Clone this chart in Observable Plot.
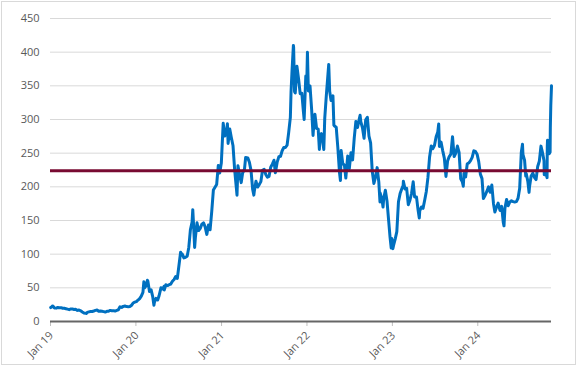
<!DOCTYPE html>
<html><head><meta charset="utf-8">
<script src="https://cdn.jsdelivr.net/npm/d3@7"></script>
<script src="https://cdn.jsdelivr.net/npm/@observablehq/plot@0.6"></script>
<style>
html,body{margin:0;padding:0;background:#fff;}
#chart{position:absolute;left:0;top:0;width:578px;height:367px;}
#frame{position:absolute;left:1px;top:1px;width:575px;height:364px;box-sizing:border-box;border:1px solid #d9d9d9;pointer-events:none;}
</style></head><body>
<div id="chart"></div><div id="frame"></div>
<script>
const dates = [
"2019-01-02","2019-01-04","2019-01-10","2019-01-11","2019-01-18","2019-01-25","2019-02-01","2019-02-08","2019-02-15","2019-02-22",
"2019-03-01","2019-03-08","2019-03-15","2019-03-22","2019-03-29","2019-04-05","2019-04-12","2019-04-18","2019-04-26","2019-05-03",
"2019-05-10","2019-05-17","2019-05-24","2019-05-31","2019-06-03","2019-06-07","2019-06-14","2019-06-21","2019-06-28","2019-07-05",
"2019-07-12","2019-07-19","2019-07-26","2019-08-02","2019-08-09","2019-08-16","2019-08-23","2019-08-30","2019-09-06","2019-09-13",
"2019-09-20","2019-09-27","2019-10-04","2019-10-11","2019-10-18","2019-10-25","2019-11-01","2019-11-08","2019-11-15","2019-11-22",
"2019-11-29","2019-12-06","2019-12-13","2019-12-20","2019-12-27",
"2020-01-03","2020-01-10","2020-01-17","2020-01-24","2020-01-31","2020-02-04","2020-02-07","2020-02-14","2020-02-19","2020-02-21",
"2020-02-28","2020-03-06","2020-03-13","2020-03-18","2020-03-20","2020-03-27","2020-04-03","2020-04-09","2020-04-17","2020-04-24",
"2020-04-30","2020-05-01","2020-05-08","2020-05-15","2020-05-22","2020-05-29","2020-06-05","2020-06-12","2020-06-19","2020-06-26",
"2020-07-02","2020-07-10","2020-07-13","2020-07-17","2020-07-24","2020-07-31","2020-08-07","2020-08-14","2020-08-21","2020-08-28",
"2020-08-31","2020-09-04","2020-09-08","2020-09-11","2020-09-18","2020-09-25","2020-10-02","2020-10-09","2020-10-16","2020-10-23",
"2020-10-30","2020-11-06","2020-11-13","2020-11-20","2020-11-27","2020-12-04","2020-12-11","2020-12-18","2020-12-24","2020-12-31",
"2021-01-08","2021-01-15","2021-01-22","2021-01-26","2021-01-29","2021-02-05","2021-02-12","2021-02-19","2021-02-26","2021-03-05",
"2021-03-08","2021-03-12","2021-03-19","2021-03-26","2021-04-01","2021-04-09","2021-04-14","2021-04-23","2021-04-30","2021-05-07",
"2021-05-14","2021-05-19","2021-05-21","2021-05-28","2021-06-04","2021-06-11","2021-06-18","2021-06-25","2021-07-02","2021-07-09",
"2021-07-16","2021-07-23","2021-07-30","2021-08-06","2021-08-13","2021-08-19","2021-08-27","2021-09-03","2021-09-10","2021-09-17",
"2021-09-24","2021-10-01","2021-10-08","2021-10-15","2021-10-22","2021-10-25","2021-10-29","2021-11-04","2021-11-05","2021-11-09",
"2021-11-12","2021-11-19","2021-11-26","2021-12-03","2021-12-10","2021-12-17","2021-12-20","2021-12-27","2021-12-31",
"2022-01-03","2022-01-07","2022-01-14","2022-01-21","2022-01-27","2022-01-28","2022-02-04","2022-02-11","2022-02-18","2022-02-23",
"2022-02-25","2022-03-04","2022-03-14","2022-03-18","2022-03-25","2022-04-04","2022-04-08","2022-04-14","2022-04-22","2022-04-26",
"2022-04-29","2022-05-06","2022-05-13","2022-05-20","2022-05-24","2022-05-27","2022-06-03","2022-06-10","2022-06-16","2022-06-24",
"2022-07-01","2022-07-08","2022-07-15","2022-07-22","2022-07-29","2022-08-05","2022-08-12","2022-08-16","2022-08-19","2022-08-26",
"2022-09-02","2022-09-09","2022-09-16","2022-09-23","2022-09-30","2022-10-07","2022-10-14","2022-10-21","2022-10-28","2022-11-04",
"2022-11-09","2022-11-10","2022-11-18","2022-11-22","2022-11-25","2022-12-02","2022-12-09","2022-12-16","2022-12-22","2022-12-27",
"2022-12-30",
"2023-01-03","2023-01-06","2023-01-13","2023-01-20","2023-01-27","2023-02-03","2023-02-10","2023-02-16","2023-02-17","2023-02-24",
"2023-03-03","2023-03-10","2023-03-17","2023-03-24","2023-03-31","2023-04-06","2023-04-14","2023-04-21","2023-04-26","2023-04-28",
"2023-05-05","2023-05-12","2023-05-19","2023-05-26","2023-06-02","2023-06-09","2023-06-16","2023-06-23","2023-06-30","2023-07-07",
"2023-07-14","2023-07-18","2023-07-21","2023-07-28","2023-08-04","2023-08-11","2023-08-18","2023-08-25","2023-09-01","2023-09-08",
"2023-09-15","2023-09-22","2023-09-29","2023-10-06","2023-10-13","2023-10-20","2023-10-27","2023-10-31","2023-11-03","2023-11-10",
"2023-11-17","2023-11-24","2023-12-01","2023-12-08","2023-12-15","2023-12-22","2023-12-29",
"2024-01-05","2024-01-12","2024-01-19","2024-01-25","2024-02-02","2024-02-09","2024-02-16","2024-02-23","2024-03-01","2024-03-08",
"2024-03-14","2024-03-22","2024-03-28","2024-04-05","2024-04-12","2024-04-19","2024-04-22","2024-04-26","2024-05-03","2024-05-10",
"2024-05-17","2024-05-24","2024-05-31","2024-06-07","2024-06-14","2024-06-21","2024-06-28","2024-07-05","2024-07-10","2024-07-12",
"2024-07-19","2024-07-24","2024-07-26","2024-08-02","2024-08-07","2024-08-09","2024-08-16","2024-08-23","2024-08-30","2024-09-06",
"2024-09-13","2024-09-20","2024-09-27","2024-10-04","2024-10-10","2024-10-11","2024-10-18","2024-10-23","2024-10-24","2024-10-25",
"2024-11-01","2024-11-05","2024-11-06","2024-11-08","2024-11-11"
];
const prices = [
20.67,21.18,23.15,22.98,20.07,19.86,20.76,20.38,20.56,19.65,
19.59,18.98,18.32,17.63,18.65,18.51,17.94,18.22,16.47,17.09,
15.92,14.18,12.68,12.34,11.93,13.59,14.27,14.76,14.90,15.62,
16.46,17.06,15.21,15.60,15.12,14.64,14.07,15.05,15.16,16.49,
16.03,16.11,15.54,16.46,17.33,21.88,20.86,22.46,23.01,22.20,
21.99,22.39,23.94,27.44,28.69,
29.53,31.88,34.00,37.63,43.37,59.14,49.93,53.34,61.16,60.07,
44.53,46.90,36.44,24.08,28.51,34.29,32.00,38.20,50.06,48.34,
52.13,46.75,54.63,53.34,54.65,55.67,59.87,62.35,66.73,63.98,
80.58,102.98,99.80,100.06,94.47,95.38,96.85,110.05,136.67,147.56,
166.11,139.44,110.07,124.24,146.58,135.02,138.36,144.68,146.56,140.26,
129.35,143.32,136.17,163.20,195.25,199.32,203.33,231.67,220.59,235.22,
294.36,275.39,282.21,293.60,264.51,285.89,272.84,260.93,225.17,199.32,
187.67,231.24,218.29,206.24,220.58,226.16,243.70,243.00,236.48,224.13,
196.00,187.67,193.60,208.41,199.68,203.30,207.77,224.67,226.00,218.25,
214.44,215.66,229.07,233.73,239.48,220.91,237.11,244.70,245.42,253.56,
258.41,258.41,261.83,281.01,303.23,341.62,371.33,409.97,407.36,341.17,
339.48,379.02,360.64,338.32,339.01,310.86,299.98,364.65,352.26,
399.93,342.32,349.87,314.63,276.37,282.12,307.77,286.67,285.66,255.46,
269.96,279.00,255.46,302.00,336.88,381.82,341.83,328.33,335.02,291.67,
290.25,288.55,257.95,221.30,209.39,253.87,234.52,232.23,213.10,245.71,
227.26,250.76,240.07,272.24,297.15,288.17,300.03,306.30,296.67,288.09,
272.00,299.68,303.35,275.33,265.25,223.07,204.99,214.44,228.52,207.47,
177.59,190.72,180.19,169.91,182.86,194.86,179.05,150.23,125.35,109.10,
123.18,
108.10,113.06,122.40,133.42,177.90,189.98,196.89,202.04,208.31,196.88,
197.79,173.44,180.13,190.41,207.46,185.06,185.00,165.08,153.75,164.31,
170.06,167.98,180.14,193.17,213.97,244.40,260.54,256.60,261.77,274.43,
281.38,293.34,260.02,266.44,253.86,242.65,215.49,238.59,245.01,248.50,
274.39,244.88,250.22,260.53,251.12,211.99,207.30,200.84,219.96,214.65,
234.30,235.45,238.83,243.84,253.50,252.54,248.48,
237.49,218.89,212.19,182.63,187.91,193.57,199.95,191.97,202.64,175.34,
162.50,170.83,175.79,164.90,171.05,147.05,142.05,168.29,181.19,171.89,
177.46,179.24,178.08,177.48,178.01,183.01,197.88,251.52,263.26,248.23,
239.20,215.99,219.80,207.67,191.76,200.00,216.12,220.32,214.11,210.73,
230.29,238.25,260.46,250.08,238.77,217.80,220.70,213.65,260.48,269.19,
248.98,251.44,288.53,321.22,350.00
];
const refLevel = 224;
const yTicks = [0,50,100,150,200,250,300,350,400,450];
const xTickDates = ["2019-01-01","2020-01-01","2021-01-01","2022-01-01","2023-01-01","2024-01-01"];

const data = dates.map((d, i) => ({date: new Date(d), price: prices[i]}));
const xTicks = xTickDates.map(d => new Date(d));
const fmt = d3.utcFormat("Jan %y");

const chart = Plot.plot({
  width: 578,
  height: 367,
  marginLeft: 50,
  marginRight: 27,
  marginTop: 18,
  marginBottom: 46,
  style: {fontFamily: "'Open Sans', sans-serif", fontSize: "11px", color: "#595959", background: "transparent"},
  x: {type: "utc", axis: null, domain: [new Date("2019-01-01"), data[data.length - 1].date]},
  y: {domain: [0, 450], axis: null},
  marks: [
    Plot.gridY(yTicks, {stroke: "#d9d9d9", strokeOpacity: 1, strokeWidth: 1}),
    Plot.axisY(yTicks, {tickSize: 0, tickPadding: 11, fill: "#595959", label: null, fontSize: 11}),
    Plot.ruleX(xTicks, {x: d => d, y1: 0, y2: 0, insetBottom: -5, stroke: "#bfbfbf", strokeWidth: 1}),
    Plot.ruleY([0], {stroke: "#666666", strokeWidth: 2}),
    Plot.line(data, {x: "date", y: "price", stroke: "#0070c0", strokeWidth: 3, strokeLinejoin: "round"}),
    Plot.ruleY([refLevel], {stroke: "#780a32", strokeWidth: 3}),
    Plot.text(xTicks, {x: d => d, frameAnchor: "bottom", text: d => fmt(d), rotate: -45, textAnchor: "end", lineAnchor: "middle", dx: 1, dy: 12, fill: "#595959", fontSize: 11})
  ]
});
document.getElementById("chart").appendChild(chart);
</script>
</body></html>
